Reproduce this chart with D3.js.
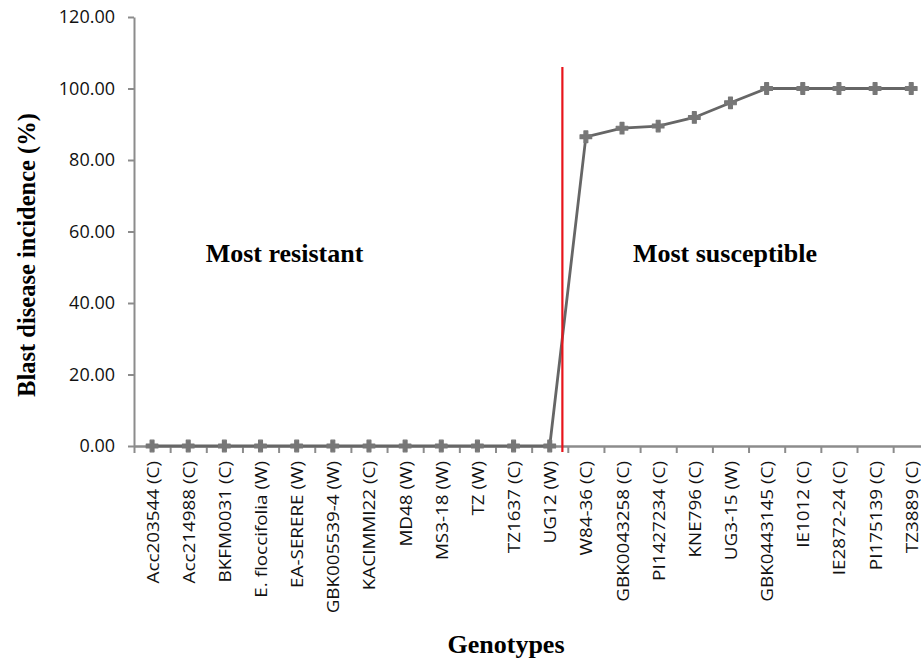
<!DOCTYPE html>
<html>
<head>
<meta charset="utf-8">
<script src="https://cdn.jsdelivr.net/npm/d3@7"></script>
<style>
  body { margin: 0; background: #fff; }
</style>
</head>
<body>
<svg width="921" height="659"></svg>
<script>
const genotypes = [
    'Acc203544 (C)', 'Acc214988 (C)', 'BKFM0031 (C)', 'E. floccifolia (W)', 'EA-SERERE (W)',
    'GBK005539-4 (W)', 'KACIMMI22 (C)', 'MD48 (W)', 'MS3-18 (W)', 'TZ (W)', 'TZ1637 (C)',
    'UG12 (W)', 'W84-36 (C)', 'GBK0043258 (C)', 'PI1427234 (C)', 'KNE796 (C)', 'UG3-15 (W)',
    'GBK0443145 (C)', 'IE1012 (C)', 'IE2872-24 (C)', 'PI175139 (C)', 'TZ3889 (C)'
];
const incidence = [
    0, 0, 0, 0, 0, 0, 0, 0, 0, 0, 0,
    0, 86.5, 88.9, 89.5, 91.9, 96.0, 100, 100, 100, 100, 100
];
const yTicks = [0, 20, 40, 60, 80, 100, 120];
// where the red divider sits, in category units, and how high it goes
const divider = {at: 11.35, top: 106};

const svg = d3.select('svg');
const plotLeft = 134, plotTop = 17, plotBottom = 446;
const band = 36.15;

const xScale = d3.scaleLinear()
    .domain([-0.5, genotypes.length - 0.5])
    .range([plotLeft, plotLeft + band * genotypes.length]);

const yScale = d3.scaleLinear()
    .domain([0, 120])
    .range([plotBottom, plotTop]);

const axisColor = '#8c8c8c';

// y axis
const gY = svg.append('g').attr('transform', `translate(${plotLeft},0)`)
    .call(d3.axisLeft(yScale).tickValues(yTicks).tickFormat(d3.format('.2f')).tickSize(6).tickSizeOuter(0));
gY.select('.domain').attr('stroke', axisColor).attr('stroke-width', 2);
gY.selectAll('.tick line').attr('stroke', axisColor).attr('stroke-width', 2);
gY.selectAll('.tick text').attr('font-family', 'Open Sans').attr('font-size', 18).attr('fill', '#111').attr('x', -19);

// x axis: ticks between categories
const bounds = d3.range(genotypes.length + 1).map(i => i - 0.5);
const gX = svg.append('g').attr('transform', `translate(0,${plotBottom})`)
    .call(d3.axisBottom(xScale).tickValues(bounds).tickFormat('').tickSize(7).tickSizeOuter(0));
gX.select('.domain').attr('stroke', axisColor).attr('stroke-width', 2.5);
gX.selectAll('.tick line').attr('stroke', axisColor).attr('stroke-width', 2);

// category labels (stretched a little along the text, like the original font)
svg.append('g').selectAll('text')
    .data(genotypes)
    .enter()
    .append('text')
    .attr('transform', (d, i) => `translate(${xScale(i) + 6.5},${plotBottom + 15}) rotate(-90) scale(1.11,1)`)
    .attr('text-anchor', 'end')
    .attr('font-family', 'Open Sans')
    .attr('font-size', 17)
    .attr('fill', '#111')
    .text(d => d);

// series line
const line = d3.line().x((d, i) => xScale(i)).y(d => yScale(d));
svg.append('path')
    .datum(incidence)
    .attr('d', line)
    .attr('fill', 'none')
    .attr('stroke', '#666')
    .attr('stroke-width', 2.8);

// markers
svg.append('g').selectAll('path')
    .data(incidence)
    .enter()
    .append('path')
    .attr('d', d3.symbol().type(d3.symbolCross).size(75))
    .attr('transform', (d, i) => `translate(${xScale(i)},${yScale(d)})`)
    .attr('fill', '#777')
    .attr('stroke', '#777')
    .attr('stroke-width', 1.2)
    .attr('stroke-linejoin', 'round');

// red divider
svg.append('line')
    .attr('x1', xScale(divider.at)).attr('x2', xScale(divider.at))
    .attr('y1', yScale(divider.top)).attr('y2', plotBottom + 6)
    .attr('stroke', '#e8141b')
    .attr('stroke-width', 2.2);

// annotations
const serif = 'Liberation Serif';
svg.append('text').text('Most resistant')
    .attr('x', 284.5).attr('y', 262)
    .attr('text-anchor', 'middle')
    .attr('font-family', serif).attr('font-weight', 'bold').attr('font-size', 26);
svg.append('text').text('Most susceptible')
    .attr('x', 725).attr('y', 262)
    .attr('text-anchor', 'middle')
    .attr('font-family', serif).attr('font-weight', 'bold').attr('font-size', 26);

// axis titles
svg.append('text').text('Blast disease incidence (%)')
    .attr('transform', 'translate(35,255) rotate(-90)')
    .attr('text-anchor', 'middle')
    .attr('font-family', serif).attr('font-weight', 'bold').attr('font-size', 24.5);
svg.append('text').text('Genotypes')
    .attr('x', 506).attr('y', 653)
    .attr('text-anchor', 'middle')
    .attr('font-family', serif).attr('font-weight', 'bold').attr('font-size', 26);
</script>
</body>
</html>
